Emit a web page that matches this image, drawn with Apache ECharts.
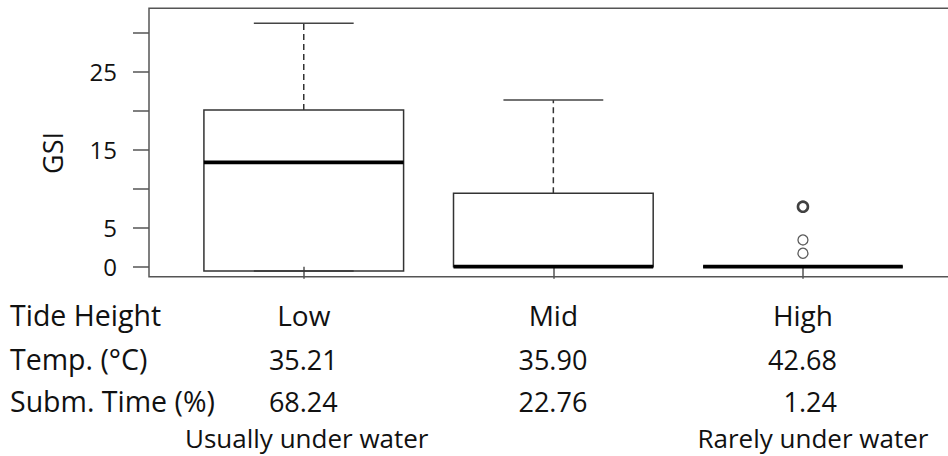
<!DOCTYPE html>
<html>
<head>
<meta charset="utf-8">
<script src="https://cdn.jsdelivr.net/npm/echarts@6/dist/echarts.min.js"></script>
<style>
  html, body { margin: 0; padding: 0; background: #fff; }
  #chart { width: 948px; height: 456px; }
</style>
</head>
<body>
<div id="chart"></div>
<script>
// ---- data ----
const categories = ['Low', 'Mid', 'High'];
const positions = [1, 2, 3];
const lowerWhisker = [-0.55, 0, 0];
const q1 = [-0.55, 0, 0];
const median = [13.36, 0, 0];
const q3 = [20.06, 9.39, 0];
const upperWhisker = [31.15, 21.34, 0];
const outlierX = [3, 3, 3, 3, 3];
const outlierY = [7.68, 7.68, 7.68, 3.42, 1.72];
const temps = ['35.21', '35.90', '42.68'];
const submTimes = ['68.24', '22.76', '1.24'];
const rowLabels = ['Tide Height', 'Temp. (\u00B0C)', 'Subm. Time (%)'];
const yTickValues = [0, 5, 10, 15, 20, 25, 30];
const yLabelValues = [0, 5, 15, 25];
const notes = ['Usually under water', 'Rarely under water'];
const yName = 'GSI';

// ---- build ----
const boxData = positions.map((p, i) => [p, lowerWhisker[i], q1[i], median[i], q3[i], upperWhisker[i]]);
// overlapping (repeated) outliers are drawn with a heavier ring, as overplotting does in the original
const outlierCounts = {};
outlierX.forEach((x, i) => { const k = x + '_' + outlierY[i]; outlierCounts[k] = (outlierCounts[k] || 0) + 1; });
const seen = {};
const outlierData = [];
outlierX.forEach((x, i) => {
  const k = x + '_' + outlierY[i];
  if (seen[k]) return;
  seen[k] = true;
  const n = outlierCounts[k];
  outlierData.push({ value: [x, outlierY[i]], itemStyle: { borderWidth: n > 1 ? 2.6 : 1.3, borderColor: n > 1 ? '#111' : '#333' } });
});

const FONT = 'Open Sans';
const TXT = '#111';
const LINE = '#333';
const FS = 28;

const chart = echarts.init(document.getElementById('chart'), null, { renderer: 'svg' });

const option = {
  backgroundColor: '#fff',
  animation: false,
  grid: {
    left: 149, top: 8.3, width: 808.7, height: 268.4,
    outerBoundsMode: 'none', containLabel: false,
    show: true, borderColor: '#555', borderWidth: 1.5, backgroundColor: 'transparent'
  },
  xAxis: {
    type: 'value', min: 0.38, max: 3.62,
    splitLine: { show: false },
    axisLine: { show: false },
    axisTick: { show: true, customValues: positions, length: 12, lineStyle: { color: '#555', width: 1.5 } },
    axisLabel: {
      customValues: positions,
      formatter: v => categories[Math.round(v) - 1],
      fontFamily: FONT, fontSize: FS, color: TXT,
      margin: 38, verticalAlign: 'middle'
    }
  },
  yAxis: {
    type: 'value', min: -1.28, max: 33.07,
    splitLine: { show: false },
    axisLine: { show: false },
    axisTick: { show: true, customValues: yTickValues, length: 16, lineStyle: { color: '#555', width: 1.5 } },
    axisLabel: {
      customValues: yLabelValues,
      fontFamily: FONT, fontSize: 24, color: TXT, margin: 32
    }
  },
  series: [
    {
      type: 'custom',
      data: boxData,
      encode: { x: 0, y: [1, 2, 3, 4, 5] },
      renderItem: function (params, api) {
        const x = api.value(0);
        const pLo = api.coord([x, api.value(1)]);
        const pQ1 = api.coord([x, api.value(2)]);
        const pMed = api.coord([x, api.value(3)]);
        const pQ3 = api.coord([x, api.value(4)]);
        const pHi = api.coord([x, api.value(5)]);
        const halfBox = api.size([0.8, 0])[0] / 2;
        const halfCap = halfBox / 2;
        const cx = pMed[0];
        const dash = { stroke: '#333', lineWidth: 1.5, lineDash: [6, 4] };
        const solid = { stroke: '#444', lineWidth: 1.5 };
        return {
          type: 'group',
          children: [
            { type: 'line', shape: { x1: cx, y1: pQ3[1], x2: cx, y2: pHi[1] }, style: dash },
            { type: 'line', shape: { x1: cx, y1: pQ1[1], x2: cx, y2: pLo[1] }, style: dash },
            { type: 'line', shape: { x1: cx - halfCap, y1: pHi[1], x2: cx + halfCap, y2: pHi[1] }, style: solid },
            { type: 'line', shape: { x1: cx - halfCap, y1: pLo[1], x2: cx + halfCap, y2: pLo[1] }, style: solid },
            { type: 'rect', shape: { x: cx - halfBox, y: pQ3[1], width: halfBox * 2, height: pQ1[1] - pQ3[1] },
              style: { fill: 'none', stroke: LINE, lineWidth: 1.5 } },
            { type: 'line', shape: { x1: cx - halfBox, y1: pMed[1], x2: cx + halfBox, y2: pMed[1] },
              style: { stroke: '#000', lineWidth: 3.8 } }
          ]
        };
      }
    },
    {
      type: 'scatter',
      data: outlierData,
      symbol: 'circle',
      symbolSize: 10,
      itemStyle: { color: '#fff', borderColor: '#333', borderWidth: 1.3 }
    }
  ]
};

chart.setOption(option);

// ---- table texts under the axis, placed through the axis scale ----
const rowY = [315, 359, 401, 438];
const txt = (text, x, y, align, fs) => ({ type: 'text',
  style: { text, x, y, fontFamily: FONT, fontSize: fs || FS, fill: TXT, align, verticalAlign: 'middle' } });
const graphics = [];
rowLabels.forEach((t, i) => graphics.push(txt(t, 10, rowY[i], 'left', 28.5)));
positions.forEach((p, i) => {
  const px = chart.convertToPixel({ xAxisIndex: 0 }, p);
  graphics.push(txt(temps[i], px + 34, rowY[1], 'right', 27));
  graphics.push(txt(submTimes[i], px + 34, rowY[2], 'right', 27));
});
const pxLow = chart.convertToPixel({ xAxisIndex: 0 }, positions[0]);
const pxHigh = chart.convertToPixel({ xAxisIndex: 0 }, positions[2]);
graphics.push(txt(notes[0], pxLow + 3, rowY[3], 'center', 26));
graphics.push(txt(notes[1], pxHigh + 10, rowY[3], 'center', 26));
graphics.push({ type: 'text', x: 52, y: 153, rotation: Math.PI / 2,
  style: { text: yName, x: 0, y: 0, fontFamily: FONT, fontSize: 27, fill: TXT, align: 'center', verticalAlign: 'middle' } });

chart.setOption({ graphic: graphics });
</script>
</body>
</html>
